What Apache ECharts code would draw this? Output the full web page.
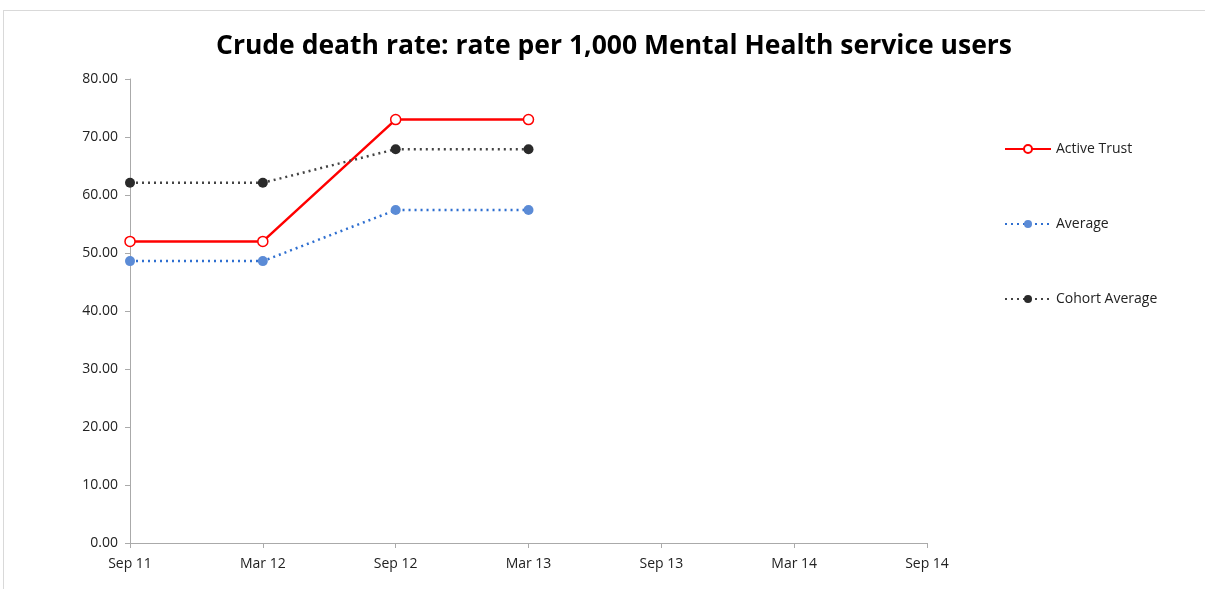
<!DOCTYPE html>
<html>
<head>
<meta charset="utf-8">
<script src="https://cdn.jsdelivr.net/npm/echarts@6/dist/echarts.min.js"></script>
<style>
  html, body { margin: 0; padding: 0; background: #fff; }
  #chart { width: 1205px; height: 589px; }
  #frame { position: absolute; left: 3px; top: 10px; width: 1210px; height: 600px; border: 1px solid #d9d9d9; pointer-events: none; }
</style>
</head>
<body>
<div id="chart"></div>
<div id="frame"></div>
<script>
  // periods on the x axis
  var periods = ["Sep 11", "Mar 12", "Sep 12", "Mar 13", "Sep 13", "Mar 14", "Sep 14"];

  // rate per 1,000 service users
  var activeTrust = [52.0, 52.0, 73.0, 73.0, null, null, null];
  var average = [48.6, 48.6, 57.4, 57.4, null, null, null];
  var cohortAverage = [62.1, 62.1, 67.9, 67.9, null, null, null];

  var font = "'Open Sans', 'Noto Sans', sans-serif";

  var myChart = echarts.init(document.getElementById("chart"));

  var option = {
    animation: false,
    title: {
      text: "Crude death rate: rate per 1,000 Mental Health service users",
      left: 609,
      textAlign: "center",
      top: 28,
      textStyle: { fontFamily: font, fontSize: 26.5, fontWeight: "bold", color: "#000" }
    },
    legend: {
      orient: "vertical",
      left: 999,
      top: 134,
      itemGap: 55,
      itemWidth: 46,
      itemHeight: 10,
      textStyle: { fontFamily: font, fontSize: 14, color: "#222", lineHeight: 20 },
      data: ["Active Trust", "Average", "Cohort Average"]
    },
    grid: { left: 130, right: 278, top: 79, bottom: 46 },
    xAxis: {
      type: "category",
      boundaryGap: false,
      data: periods,
      axisLine: { lineStyle: { color: "#aaa" } },
      axisTick: { show: true, length: 5, lineStyle: { color: "#aaa" } },
      axisLabel: { fontFamily: font, fontSize: 14, color: "#222", margin: 14 }
    },
    yAxis: {
      type: "value",
      min: 0,
      max: 80,
      interval: 10,
      axisLine: { show: true, lineStyle: { color: "#aaa" } },
      axisTick: { show: true, length: 5, lineStyle: { color: "#aaa" } },
      splitLine: { show: false },
      axisLabel: {
        fontFamily: font, fontSize: 14, color: "#222", margin: 12,
        formatter: function (val) { return val.toFixed(2); }
      }
    },
    series: [
      {
        name: "Active Trust",
        type: "line",
        data: activeTrust,
        color: "#ff0000",
        lineStyle: { color: "#ff0000", width: 2.5 },
        symbol: "circle",
        symbolSize: 10,
        itemStyle: { color: "#fff", borderColor: "#ff0000", borderWidth: 1.5 }
      },
      {
        name: "Average",
        type: "line",
        data: average,
        color: "#4f7fd1",
        lineStyle: { color: "#2f6fd0", width: 2.5, type: [2, 4] },
        symbol: "circle",
        symbolSize: 10,
        itemStyle: { color: "#5b8bd6" }
      },
      {
        name: "Cohort Average",
        type: "line",
        data: cohortAverage,
        color: "#2a2a2a",
        lineStyle: { color: "#444", width: 2.5, type: [2, 4] },
        symbol: "circle",
        symbolSize: 10,
        itemStyle: { color: "#2a2a2a" }
      }
    ]
  };

  myChart.setOption(option);
</script>
</body>
</html>
